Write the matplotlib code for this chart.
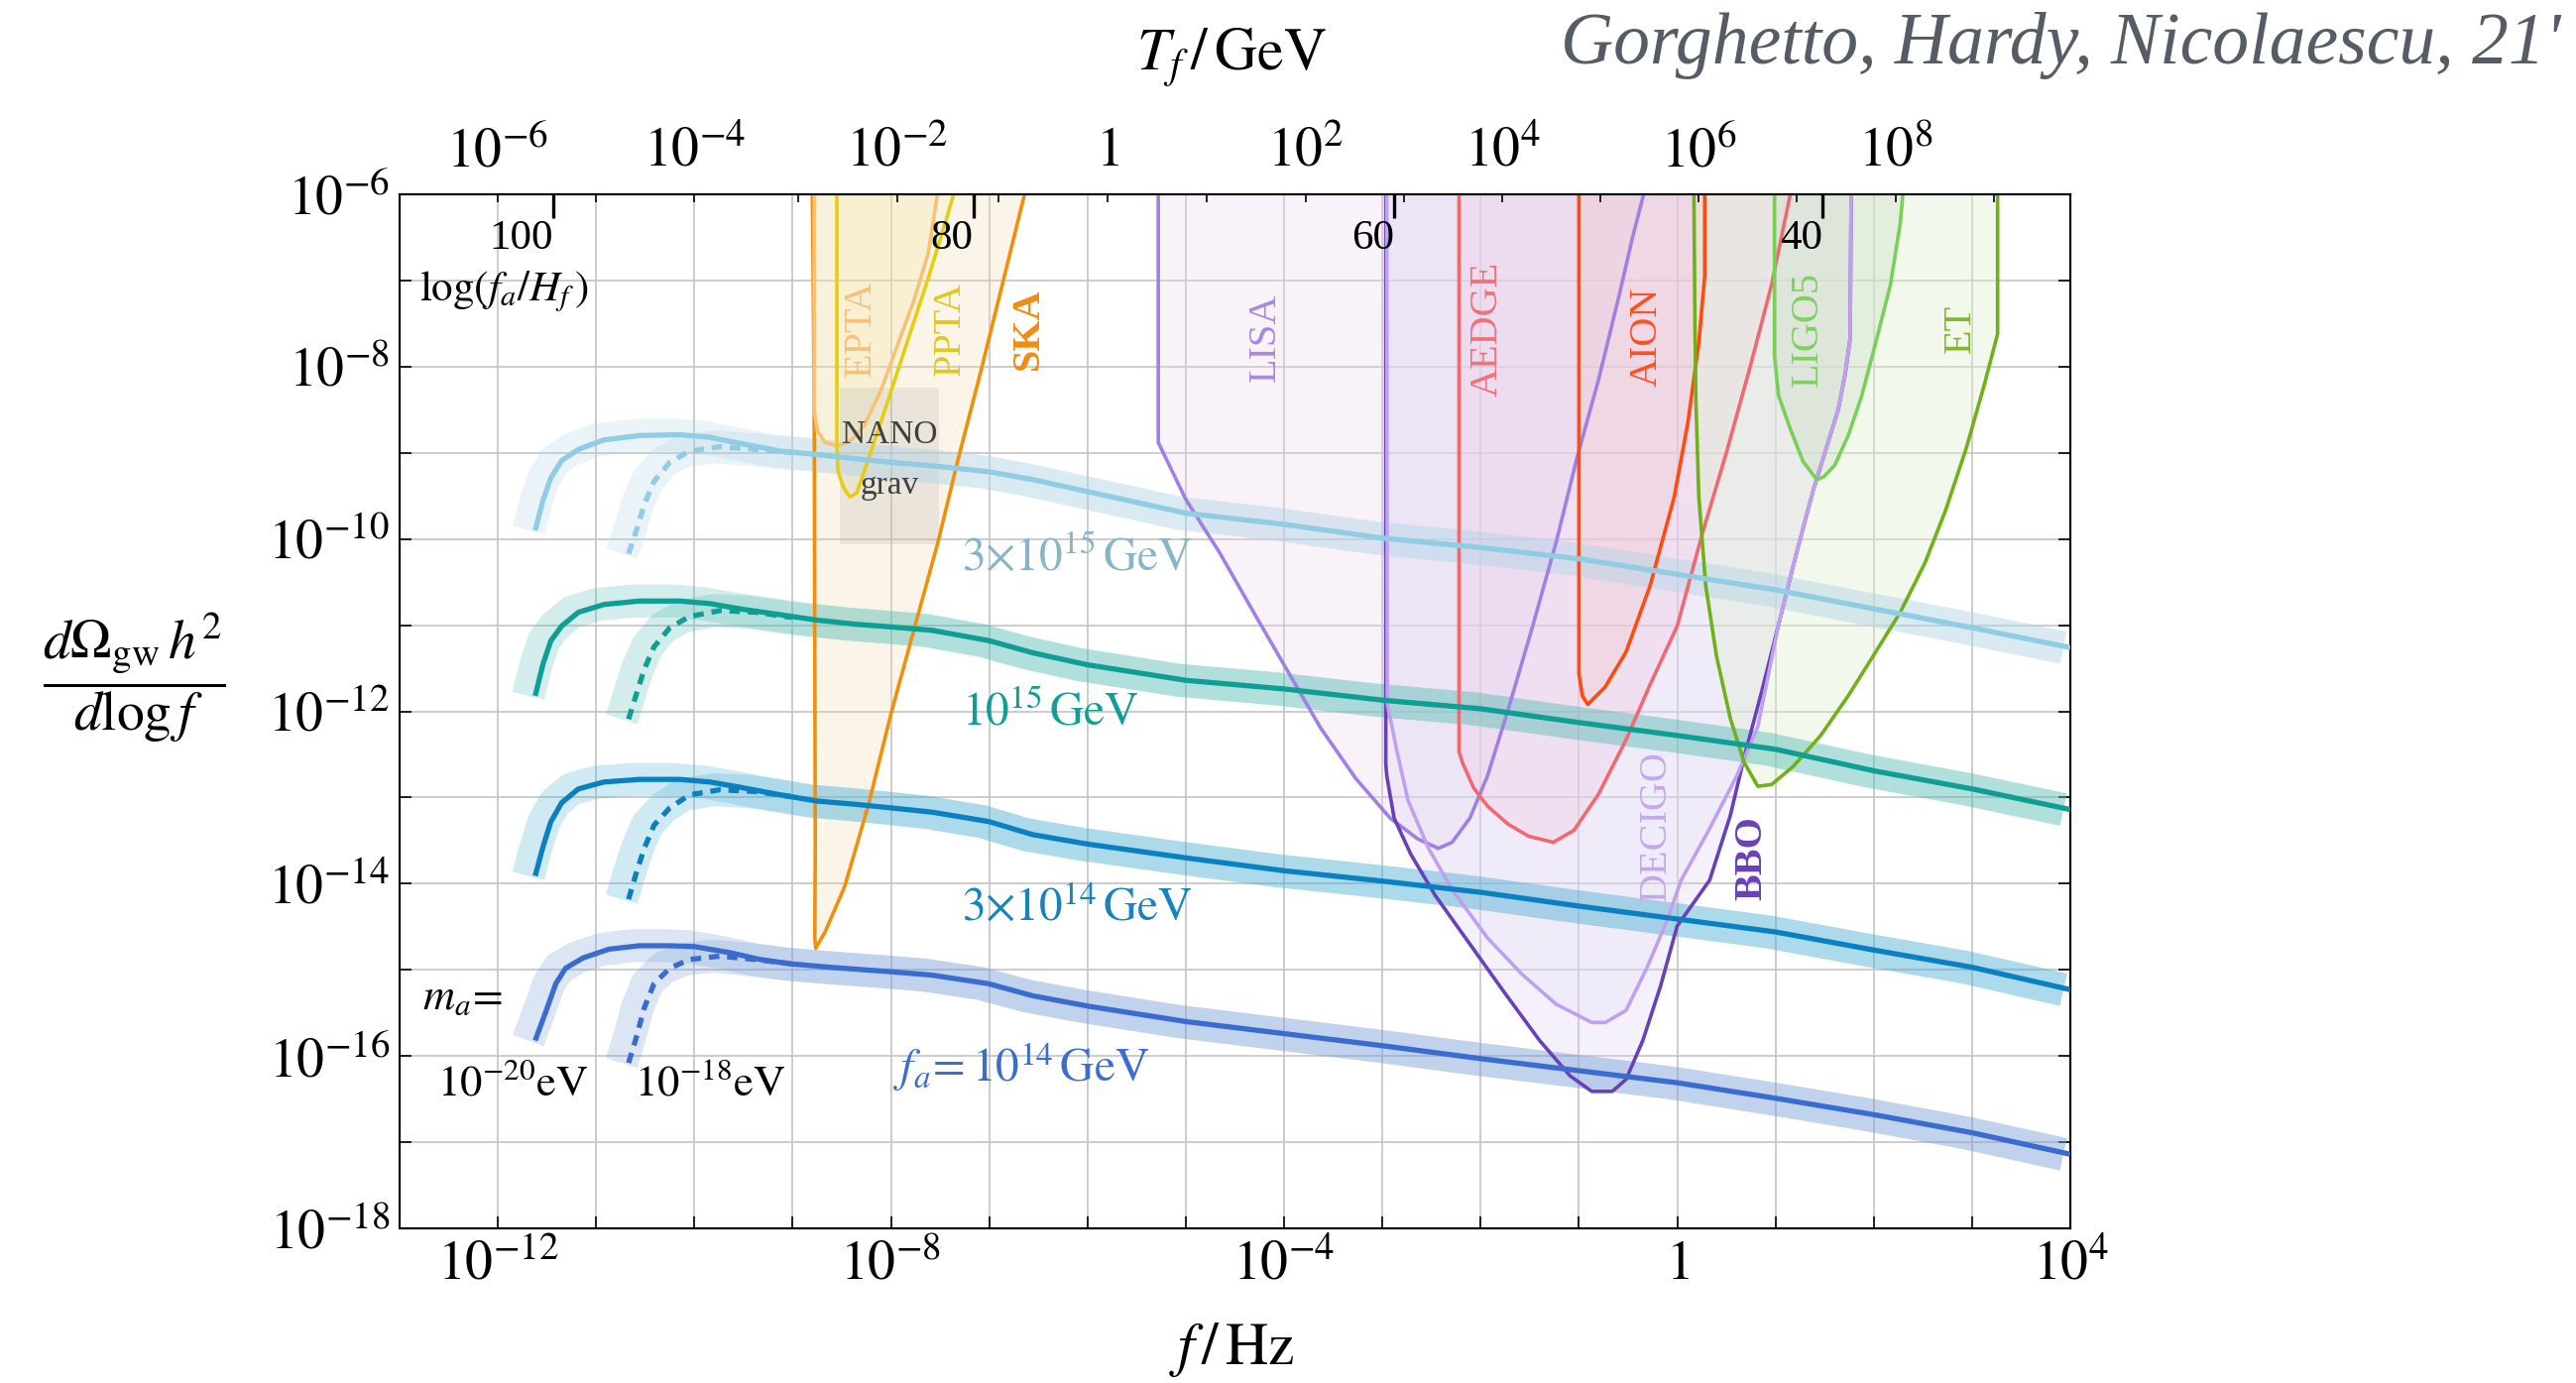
import matplotlib
matplotlib.use('Agg')
from matplotlib import pyplot as plt
from matplotlib.patches import Rectangle
from matplotlib.ticker import NullLocator
import matplotlib.transforms as mtransforms
import numpy as np

plt.rcParams['font.family'] = ['Liberation Serif', 'DejaVu Serif']
plt.rcParams['mathtext.fontset'] = 'stix'

# string spectra: log10(f/Hz) -> log10(dOmega_gw h^2 / dlog f)
# solid lines: m_a = 1e-20 eV, dashed: m_a = 1e-18 eV
LOGF_SOLID = [-11.62, -11.54, -11.46, -11.35, -11.18, -10.92, -10.56, -10.15, -9.84, -9.54,
              -9.12, -8.76, -8.35, -8.00, -7.58, -7.00, -6.56, -6.00, -5.00, -4.00,
              -3.00, -2.00, -1.00, 0.00, 1.00, 2.00, 3.00, 4.00]
OMEGA_3E15 = [-9.90, -9.55, -9.29, -9.09, -8.96, -8.85, -8.80, -8.79, -8.82, -8.89,
              -8.98, -9.02, -9.07, -9.11, -9.15, -9.22, -9.31, -9.45, -9.70, -9.83,
              -9.99, -10.10, -10.23, -10.41, -10.59, -10.81, -11.03, -11.26]
OMEGA_1E15 = [-11.82, -11.45, -11.18, -11.01, -10.85, -10.76, -10.72, -10.72, -10.75, -10.81,
              -10.88, -10.94, -10.99, -11.02, -11.06, -11.18, -11.32, -11.46, -11.64, -11.74,
              -11.87, -11.97, -12.13, -12.28, -12.44, -12.69, -12.90, -13.14]
OMEGA_3E14 = [-13.91, -13.57, -13.28, -13.06, -12.90, -12.82, -12.79, -12.79, -12.82, -12.88,
              -12.97, -13.04, -13.08, -13.12, -13.17, -13.28, -13.43, -13.54, -13.70, -13.85,
              -13.97, -14.10, -14.26, -14.41, -14.56, -14.77, -14.97, -15.23]
LOGF_1E14 = [-11.62, -11.51, -11.41, -11.31, -11.13, -10.87, -10.56, -10.26, -10.00, -9.64,
             -9.33, -9.02, -8.62, -8.02, -7.59, -7.01, -6.56, -6.00, -5.00, -4.00,
             -3.00, -2.00, -1.00, 0.00, 1.00, 2.00, 3.00, 4.00]
OMEGA_1E14 = [-15.82, -15.48, -15.16, -14.98, -14.86, -14.76, -14.72, -14.72, -14.73, -14.80,
              -14.88, -14.93, -14.97, -15.02, -15.06, -15.16, -15.30, -15.42, -15.60, -15.74,
              -15.88, -16.03, -16.17, -16.31, -16.49, -16.68, -16.89, -17.14]

LOGF_DASHED = [-10.67, -10.59, -10.51, -10.41, -10.25, -10.05, -9.74, -9.38, -9.01]
DASHED_3E15 = [-10.17, -9.90, -9.60, -9.33, -9.11, -8.98, -8.93, -8.96, -9.00]
DASHED_1E15 = [-12.09, -11.80, -11.51, -11.25, -11.03, -10.90, -10.83, -10.85, -10.91]
DASHED_3E14 = [-14.18, -13.87, -13.59, -13.32, -13.12, -12.97, -12.91, -12.93, -12.99]
DASHED_1E14 = [-16.08, -15.78, -15.44, -15.16, -14.98, -14.88, -14.84, -14.88, -14.93]

# detector sensitivity regions, log10(f/Hz) and log10(Omega h^2)
SKA_F = [-8.80, -8.79, -8.78, -8.775, -8.77, -8.775, -8.765, -8.67, -8.47, -8.23, -8.00,
         -7.76, -7.52, -7.32, -7.08, -6.85, -6.63]
SKA_O = [-5.95, -7.09, -8.85, -11.21, -13.56, -14.62, -14.75, -14.56, -14.03, -13.09, -12.03,
         -11.03, -10.03, -9.09, -8.03, -6.97, -5.95]
EPTA_F = [-8.78, -8.78, -8.75, -8.67, -8.54, -8.40, -8.27, -8.10, -7.93, -7.76, -7.62, -7.52]
EPTA_O = [-5.95, -8.50, -8.74, -8.88, -8.92, -8.85, -8.68, -8.27, -7.74, -7.21, -6.68, -5.95]
PPTA_F = [-8.55, -8.55, -8.54, -8.48, -8.42, -8.35, -8.27, -8.13, -7.96, -7.79, -7.62, -7.46, -7.35]
PPTA_O = [-5.95, -8.85, -9.21, -9.41, -9.51, -9.47, -9.21, -8.74, -8.15, -7.56, -6.97, -6.38, -5.95]
LISA_F = [-5.28, -5.28, -5.00, -4.65, -4.30, -3.98, -3.63, -3.27, -2.92, -2.64, -2.43, -2.29,
          -2.11, -1.93, -1.72, -1.47, -1.23, -1.02, -0.80, -0.59, -0.45, -0.33]
LISA_O = [-5.95, -8.88, -9.54, -10.17, -10.87, -11.50, -12.19, -12.78, -13.24, -13.48, -13.59, -13.52,
          -13.24, -12.75, -11.98, -11.01, -10.03, -9.06, -8.15, -7.17, -6.48, -5.95]
BBO_F = [-2.965, -2.965, -2.955, -2.88, -2.71, -2.46, -2.11, -1.76, -1.40, -1.09, -0.87, -0.66,
         -0.52, -0.35, -0.17, 0.00, 0.33, 0.54, 0.68, 0.86, 1.03, 1.21, 1.39, 1.53, 1.64, 1.71,
         1.76, 1.77]
BBO_O = [-5.95, -12.61, -12.75, -13.24, -13.66, -14.14, -14.70, -15.26, -15.82, -16.23, -16.41, -16.41,
         -16.27, -15.82, -15.19, -14.49, -13.96, -13.21, -12.54, -11.77, -11.00, -10.18, -9.41, -8.90,
         -8.49, -8.08, -7.67, -5.95]
DECIGO_F = [-2.955, -2.95, -2.85, -2.74, -2.53, -2.29, -1.93, -1.58, -1.23, -0.87, -0.73, -0.52,
            -0.31, -0.10, 0.04, 0.33, 0.61, 0.82, 1.03, 1.21, 1.39, 1.53, 1.64, 1.71, 1.76, 1.77]
DECIGO_O = [-5.95, -11.91, -12.47, -13.03, -13.59, -14.07, -14.63, -15.05, -15.40, -15.61, -15.61, -15.47,
            -14.98, -14.42, -13.96, -13.36, -12.74, -12.18, -11.00, -10.18, -9.41, -8.90, -8.49, -8.08,
            -7.67, -5.95]
AEDGE_F = [-2.22, -2.22, -2.18, -2.07, -1.93, -1.72, -1.51, -1.26, -1.05, -0.80, -0.52, -0.28,
           0.00, 0.26, 0.50, 0.75, 0.96, 1.16]
AEDGE_O = [-5.95, -12.47, -12.61, -12.89, -13.10, -13.31, -13.45, -13.52, -13.38, -12.96, -12.33, -11.70,
           -11.01, -9.92, -9.00, -7.97, -7.05, -5.95]
AION_F = [-1.00, -1.00, -0.965, -0.91, -0.735, -0.52, -0.275, -0.03, 0.11, 0.22, 0.28, 0.28]
AION_O = [-5.95, -11.56, -11.82, -11.92, -11.72, -11.31, -10.54, -9.51, -8.64, -7.72, -6.95, -5.95]
LIGO5_F = [0.99, 0.99, 1.03, 1.14, 1.28, 1.42, 1.49, 1.60, 1.74, 1.88, 2.02, 2.17, 2.27, 2.30]
LIGO5_O = [-5.95, -7.87, -8.33, -8.69, -9.10, -9.31, -9.28, -9.15, -8.80, -8.33, -7.72, -7.05, -6.33, -5.95]
ET_F = [0.17, 0.18, 0.19, 0.22, 0.29, 0.40, 0.54, 0.68, 0.82, 0.96, 1.18, 1.46, 1.74, 2.02,
        2.27, 2.52, 2.73, 2.94, 3.12, 3.26, 3.26]
ET_O = [-5.95, -7.46, -8.39, -9.51, -10.54, -11.36, -12.08, -12.59, -12.87, -12.85, -12.64, -12.28,
        -11.82, -11.31, -10.85, -10.28, -9.67, -8.95, -8.23, -7.62, -5.95]

# NANOGrav box (log f range, log Omega range)
NANO_F = [-8.52, -7.51]
NANO_O = [-10.06, -8.24]

# upper axis: T_f/GeV ticks and the log f where they sit
T_EXP = [-6, -5, -4, -3, -2, -1, 0, 1, 2, 3, 4, 5, 6, 7, 8, 9]
T_LOGF = [-12.0, -11.0, -10.0, -8.94, -7.94, -6.91, -5.80, -4.79, -3.78, -2.78, -1.78, -0.78,
          0.22, 1.22, 2.22, 3.22]
# log(f_a/H_f) marks
LOGFH_VALUES = [100, 80, 60, 40]
LOGFH_LOGF = [-11.44, -7.16, -2.88, 1.48]


def exp_label(e):
    if e == 0:
        return '$1$'
    return '$10^{%d}$' % e


def draw_spectrum(ax, logf, logo, dash_o, color, band_color):
    f = 10 ** np.array(logf)
    o = 10 ** np.array(logo)
    fd = 10 ** np.array(LOGF_DASHED)
    od = 10 ** np.array(dash_o)

    # pale uncertainty bands (solid and dashed, the latter joins the solid one)
    shift = 10 ** -0.07
    ax.plot(f * shift, o, color=band_color, alpha=0.27, lw=24,
            solid_capstyle='butt', solid_joinstyle='round', zorder=2)
    rest = np.array(logf) > LOGF_DASHED[-1]
    fb = np.concatenate([fd, f[rest]])
    ob = np.concatenate([od, o[rest]])
    ax.plot(fb * shift, ob, color=band_color, alpha=0.27, lw=24,
            solid_capstyle='butt', solid_joinstyle='round', zorder=2)

    ax.plot(f, o, color=color, lw=3.8, solid_capstyle='butt', zorder=4)
    ax.plot(fd, od, color=color, lw=3.8, linestyle=(0, (2.0, 1.5)), zorder=4)


def draw_detector(ax, logf, logo, line_color, fill_color, alpha):
    f = 10 ** np.array(logf)
    o = 10 ** np.array(logo)
    ax.fill(f, o, color=fill_color, alpha=alpha, lw=0, zorder=1)
    ax.plot(f, o, color=line_color, lw=2.6, zorder=3)


def main():
    fig = plt.figure(figsize=(25.98, 13.95), dpi=100)
    ax = fig.add_axes([0.1551, 0.1118, 0.6486, 0.7477])
    ax.set_xscale('log')
    ax.set_yscale('log')
    ax.set_xlim(1e-13, 1e4)
    ax.set_ylim(1e-18, 1e-6)

    # detectors
    draw_detector(ax, SKA_F, SKA_O, '#f0900a', '#f2d6a8', 0.26)
    draw_detector(ax, EPTA_F, EPTA_O, '#f8c274', '#f8e6b0', 0.2)
    draw_detector(ax, PPTA_F, PPTA_O, '#e8cc10', '#f8eea8', 0.15)
    draw_detector(ax, LISA_F, LISA_O, '#a080e0', '#eed6ea', 0.3)
    draw_detector(ax, BBO_F, BBO_O, '#6a40b8', '#d8d0f0', 0.28)
    draw_detector(ax, DECIGO_F, DECIGO_O, '#c0a0ee', '#e6def6', 0.28)
    draw_detector(ax, AEDGE_F, AEDGE_O, '#f06870', '#f0c4e2', 0.3)
    draw_detector(ax, AION_F, AION_O, '#ff4a10', '#f0c4c4', 0.28)
    draw_detector(ax, LIGO5_F, LIGO5_O, '#78d058', '#c4d4c4', 0.4)
    draw_detector(ax, ET_F, ET_O, '#70b018', '#e0f0d0', 0.4)

    ax.add_patch(Rectangle((10 ** NANO_F[0], 10 ** NANO_O[0]),
                           10 ** NANO_F[1] - 10 ** NANO_F[0], 10 ** NANO_O[1] - 10 ** NANO_O[0],
                           facecolor='#9a9a9a', alpha=0.17, lw=0, zorder=1.2))

    # spectra
    draw_spectrum(ax, LOGF_SOLID, OMEGA_3E15, DASHED_3E15, '#90cce4', '#b2d5e7')
    draw_spectrum(ax, LOGF_SOLID, OMEGA_1E15, DASHED_1E15, '#0e9e96', '#59beb6')
    draw_spectrum(ax, LOGF_SOLID, OMEGA_3E14, DASHED_3E14, '#0a80c0', '#50b2d5')
    draw_spectrum(ax, LOGF_1E14, OMEGA_1E14, DASHED_1E14, '#3a6cd0', '#7da0d9')

    # detector names
    det_labels = [
        ('EPTA', -8.30, -7.56, '#f5c27a', 'normal'),
        ('PPTA', -7.40, -7.56, '#e0c820', 'normal'),
        ('SKA', -6.60, -7.56, '#f08c10', 'bold'),
        ('LISA', -4.19, -7.66, '#a888e0', 'normal'),
        ('AEDGE', -1.93, -7.56, '#f07078', 'normal'),
        ('AION', -0.31, -7.66, '#ff5020', 'normal'),
        ('LIGO5', 1.33, -7.56, '#80d060', 'normal'),
        ('ET', 2.88, -7.56, '#80b828', 'normal'),
        ('DECIGO', -0.21, -13.33, '#c4a8ee', 'normal'),
        ('BBO', 0.76, -13.70, '#6a40b8', 'bold'),
    ]
    for name, lf, lo, col, weight in det_labels:
        ax.text(10 ** lf, 10 ** lo, name, rotation=90, color=col, fontsize=29,
                fontweight=weight, ha='center', va='center', zorder=5)

    ax.text(10 ** -8.01, 10 ** -8.79, 'NANO', color='#404040', fontsize=24,
            ha='center', va='center', zorder=5)
    ax.text(10 ** -8.01, 10 ** -9.38, 'grav', color='#404040', fontsize=24,
            ha='center', va='center', zorder=5)

    # spectrum labels
    ax.text(10 ** -7.28, 10 ** -10.23, r'$3{\times}10^{15}\,\mathrm{GeV}$', color='#88b4c8',
            fontsize=34, va='center', zorder=5)
    ax.text(10 ** -7.28, 10 ** -12.02, r'$10^{15}\,\mathrm{GeV}$', color='#119e96',
            fontsize=34, va='center', zorder=5)
    ax.text(10 ** -7.28, 10 ** -14.29, r'$3{\times}10^{14}\,\mathrm{GeV}$', color='#1584bd',
            fontsize=34, va='center', zorder=5)
    ax.text(10 ** -7.98, 10 ** -16.13, r'$f_a\!=10^{14}\,\mathrm{GeV}$', color='#3b6dcc',
            fontsize=34, va='center', zorder=5)
    ax.text(10 ** -12.77, 10 ** -15.33, r'$m_a\!=$', color='black', fontsize=32,
            va='center', zorder=5)
    ax.text(10 ** -12.62, 10 ** -16.32, r'$10^{-20}\mathrm{eV}$', color='black', fontsize=32,
            va='center', zorder=5)
    ax.text(10 ** -10.61, 10 ** -16.32, r'$10^{-18}\mathrm{eV}$', color='black', fontsize=32,
            va='center', zorder=5)

    # axes styling
    ax.set_axisbelow(True)
    xt = list(range(-13, 5))
    ax.set_xticks([10.0 ** k for k in xt],
                  labels=[exp_label(k) if k % 4 == 0 else '' for k in xt])
    yt = list(range(-18, -5))
    ax.set_yticks([10.0 ** k for k in yt],
                  labels=[exp_label(k) if k % 2 == 0 else '' for k in yt])
    ax.xaxis.set_minor_locator(NullLocator())
    ax.yaxis.set_minor_locator(NullLocator())
    ax.tick_params(axis='both', which='major', direction='in', length=8.5, width=1.2,
                   labelsize=40, top=False, right=True)
    ax.tick_params(axis='x', pad=8)
    ax.tick_params(axis='y', pad=7)
    ax.grid(True, which='major', color='#c4c4c4', lw=1.2)
    for sp in ax.spines.values():
        sp.set_linewidth(1.5)

    # upper axis with temperature
    top = ax.twiny()
    top.set_xscale('log')
    top.set_xlim(ax.get_xlim())
    top.set_xticks([10.0 ** v for v in T_LOGF],
                   labels=[exp_label(e) if e % 2 == 0 else '' for e in T_EXP])
    top.set_xticks([10.0 ** v for v in LOGFH_LOGF], minor=True)
    top.tick_params(axis='x', which='major', direction='in', length=6, width=1.2,
                    labelsize=40, pad=12)
    top.tick_params(axis='x', which='minor', direction='in', length=17, width=2.4,
                    labelbottom=False, labeltop=False)
    top.spines['top'].set_linewidth(1.5)

    trans = mtransforms.blended_transform_factory(ax.transData, ax.transAxes)
    for val, lf in zip(LOGFH_VALUES, LOGFH_LOGF):
        ax.text(10 ** lf, 0.957, str(val), transform=trans, fontsize=31,
                ha='right', va='center', zorder=5)
    ax.text(0.0118, 0.906, r'$\log(f_a/H_f\,)$', transform=ax.transAxes, fontsize=31,
            ha='left', va='center', zorder=5)

    fig.text(0.478, 0.024, r'$f\,/\,\mathrm{Hz}$', fontsize=43, ha='center', va='center')
    fig.text(0.478, 0.958, r'$T_f\,/\,\mathrm{GeV}$', fontsize=43, ha='center', va='center')
    fig.text(0.052, 0.51, r'$\dfrac{d\Omega_{\mathrm{gw}}\,h^2}{d\log f}$', fontsize=40,
             ha='center', va='center')
    fig.text(0.994, 0.967, "Gorghetto, Hardy, Nicolaescu, 21'", fontsize=53, style='italic',
             color='#565c64', ha='right', va='center')

    fig.savefig('out.png', dpi=100)
    plt.close(fig)


if __name__ == '__main__':
    main()
